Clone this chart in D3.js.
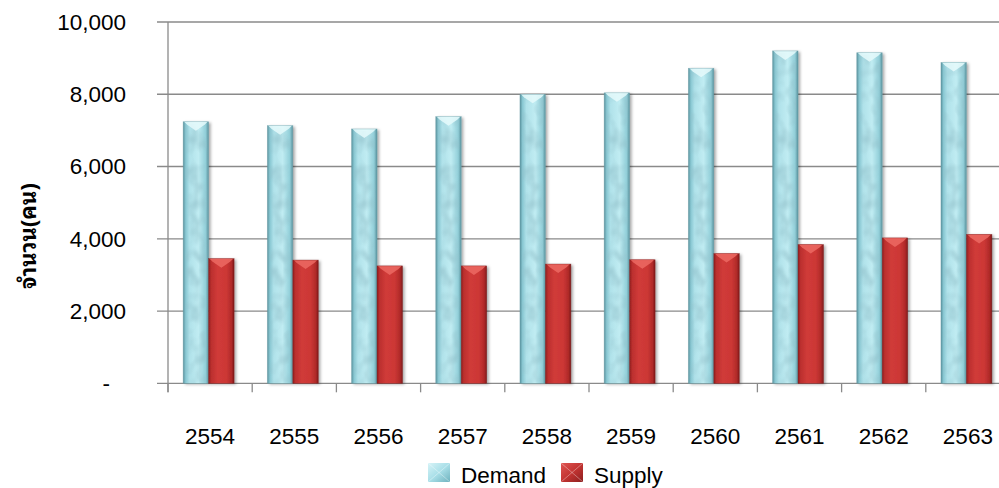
<!DOCTYPE html>
<html>
<head>
<meta charset="utf-8">
<script src="https://cdn.jsdelivr.net/npm/d3@7"></script>
<style>
  html, body { margin: 0; padding: 0; background: #fff; overflow: hidden; }
  svg { display: block; }
  text { font-family: "Liberation Sans", Arial, sans-serif; fill: #000; }
</style>
</head>
<body>
<svg id="chart" width="999" height="488"></svg>
<script>
// ---- data ----
const categories = ["2554", "2555", "2556", "2557", "2558", "2559", "2560", "2561", "2562", "2563"];
const demand = [7240, 7130, 7040, 7380, 8000, 8040, 8720, 9200, 9150, 8880];
const supply = [3450, 3410, 3250, 3250, 3300, 3420, 3590, 3840, 4025, 4120];
const seriesNames = ["Demand", "Supply"];
const yTicks = [0, 2000, 4000, 6000, 8000, 10000];
const yTickLabels = ["-", "2,000", "4,000", "6,000", "8,000", "10,000"];
const yTitle = "จำนวน(คน)";

(function () {
// ---- layout ----
const svg = d3.select("#chart");
const pL = 168, pR = 1010, pT = 22, pB = 383.3;
const gridColor = "#8a8a8a";
const fs = 22.5;

const y = d3.scaleLinear().domain([0, 10000]).range([pB, pT]);
const x0 = d3.scaleBand().domain(categories).range([pL, pR]).padding(0);
const x1 = d3.scaleBand().domain(seriesNames)
  .range([x0.bandwidth() * 0.18, x0.bandwidth() * 0.785]).padding(0);

const defs = svg.append("defs");
const dg = defs.append("linearGradient").attr("id", "demGrad").attr("x1", "0").attr("x2", "1").attr("y1", "0").attr("y2", "0");
[["0%", "#5a929d"], ["10%", "#88c7d2"], ["25%", "#b0e2ea"], ["60%", "#c0ecf2"], ["88%", "#92cfd9"], ["100%", "#5a929d"]]
  .forEach(s => dg.append("stop").attr("offset", s[0]).attr("stop-color", s[1]));
const sg = defs.append("linearGradient").attr("id", "supGrad").attr("x1", "0").attr("x2", "1").attr("y1", "0").attr("y2", "0");
[["0%", "#8e1f1f"], ["10%", "#bb2f2e"], ["35%", "#d03b39"], ["70%", "#cc3735"], ["90%", "#b02a29"], ["100%", "#7e1a1a"]]
  .forEach(s => sg.append("stop").attr("offset", s[0]).attr("stop-color", s[1]));
const lgd = defs.append("linearGradient").attr("id", "legDem").attr("x1", "0").attr("x2", "1").attr("y1", "0").attr("y2", "1");
[["0%", "#d6f3f7"], ["50%", "#a9dfe8"], ["100%", "#6fb2be"]].forEach(s => lgd.append("stop").attr("offset", s[0]).attr("stop-color", s[1]));
const lgs = defs.append("linearGradient").attr("id", "legSup").attr("x1", "0").attr("x2", "1").attr("y1", "0").attr("y2", "1");
[["0%", "#e05552"], ["50%", "#c33432"], ["100%", "#8d1f1f"]].forEach(s => lgs.append("stop").attr("offset", s[0]).attr("stop-color", s[1]));

const tf = defs.append("filter").attr("id", "tex").attr("x", "0").attr("y", "0").attr("width", "1").attr("height", "1");
tf.append("feTurbulence").attr("type", "fractalNoise").attr("baseFrequency", "0.09 0.06").attr("numOctaves", 2).attr("seed", 4).attr("result", "noise");
tf.append("feColorMatrix").attr("in", "noise").attr("type", "matrix")
  .attr("values", "0 0 0 0 0.28  0 0 0 0 0.52  0 0 0 0 0.58  0 0 0 -2.4 1.45").attr("result", "spots");
tf.append("feComposite").attr("in", "spots").attr("in2", "SourceGraphic").attr("operator", "in");

const sh = defs.append("filter").attr("id", "shadow").attr("x", "-30%").attr("y", "-10%").attr("width", "170%").attr("height", "130%");
sh.append("feDropShadow").attr("dx", 2).attr("dy", 1).attr("stdDeviation", 1.5).attr("flood-color", "#000").attr("flood-opacity", 0.35);

// ---- gridlines ----
svg.append("g").selectAll("line").data(yTicks).join("line")
  .attr("x1", pL - 11).attr("x2", 999)
  .attr("y1", d => y(d)).attr("y2", d => y(d))
  .attr("stroke", gridColor).attr("stroke-width", 1.3);

svg.append("line").attr("x1", pL).attr("x2", pL).attr("y1", pT).attr("y2", pB + 9)
  .attr("stroke", gridColor).attr("stroke-width", 1.3);

svg.append("g").selectAll("line").data(categories).join("line")
  .attr("x1", d => x0(d)).attr("x2", d => x0(d))
  .attr("y1", pB).attr("y2", pB + 9)
  .attr("stroke", gridColor).attr("stroke-width", 1.3);

// ---- bars ----
const rows = categories.map((c, i) => ({ cat: c, vals: [{ s: "Demand", v: demand[i] }, { s: "Supply", v: supply[i] }] }));
const groups = svg.append("g").selectAll("g").data(rows).join("g")
  .attr("transform", d => `translate(${x0(d.cat)},0)`);

const bars = groups.selectAll("g.bar").data(d => d.vals).join("g").attr("class", "bar");
bars.append("rect")
  .attr("x", d => x1(d.s)).attr("width", x1.bandwidth())
  .attr("y", d => y(d.v)).attr("height", d => y(0) - y(d.v))
  .attr("fill", d => d.s === "Demand" ? "url(#demGrad)" : "url(#supGrad)")
  .attr("filter", "url(#shadow)");
bars.filter(d => d.s === "Demand").append("rect")
  .attr("x", d => x1(d.s) + 2).attr("width", x1.bandwidth() - 4)
  .attr("y", d => y(d.v) + 2).attr("height", d => y(0) - y(d.v) - 2)
  .attr("fill", "#fff").attr("filter", "url(#tex)").attr("opacity", 0.6);
bars.append("path")
  .attr("d", d => {
    const xa = x1(d.s), w = x1.bandwidth(), t = y(d.v);
    return `M${xa + 1},${t} L${xa + w - 1},${t} L${xa + w - 4},${t + 3} L${xa + w / 2},${t + 9} L${xa + 4},${t + 3} Z`;
  })
  .attr("fill", d => d.s === "Demand" ? "#e6fafc" : "#ec6a63")
  .attr("opacity", 0.85);
bars.append("rect")
  .attr("x", d => x1(d.s)).attr("width", x1.bandwidth())
  .attr("y", d => y(d.v)).attr("height", d => y(0) - y(d.v))
  .attr("fill", "none")
  .attr("stroke", d => d.s === "Demand" ? "#6a9ea8" : "#7a1818")
  .attr("stroke-width", 0.6).attr("stroke-opacity", 0.6);

// ---- y tick labels ----
svg.append("g").selectAll("text").data(yTicks).join("text")
  .attr("x", (d, i) => yTickLabels[i] === "-" ? 110 : 126)
  .attr("y", d => y(d))
  .attr("dy", "0.35em")
  .attr("text-anchor", "end")
  .attr("font-size", fs)
  .text((d, i) => yTickLabels[i]);

// ---- x tick labels ----
svg.append("g").selectAll("text").data(categories).join("text")
  .attr("x", d => x0(d) + x0.bandwidth() / 2)
  .attr("y", 444)
  .attr("text-anchor", "middle")
  .attr("font-size", fs)
  .text(d => d);

// ---- y title ----
svg.append("text")
  .attr("transform", "translate(36,236) rotate(-90)")
  .attr("text-anchor", "middle")
  .attr("font-size", 22)
  .attr("font-weight", "bold")
  .style("font-family", "'Noto Sans Thai Looped', 'Noto Sans Thai', 'Noto Sans', 'DejaVu Sans', sans-serif")
  .text(yTitle);

// ---- legend ----
const legendItems = [
  { name: seriesNames[0], fill: "url(#legDem)", x: 428 },
  { name: seriesNames[1], fill: "url(#legSup)", x: 561 }
];
const lg = svg.append("g").selectAll("g").data(legendItems).join("g")
  .attr("transform", d => `translate(${d.x},463)`);
lg.append("rect").attr("width", 22).attr("height", 19).attr("fill", d => d.fill);
lg.append("path").attr("d", "M0,0 L22,19 M22,0 L0,19").attr("stroke", "#fff").attr("stroke-opacity", 0.35).attr("stroke-width", 1);
lg.append("text").attr("x", 33).attr("y", 19.5).attr("font-size", fs).text(d => d.name);
})();
</script>
</body>
</html>
